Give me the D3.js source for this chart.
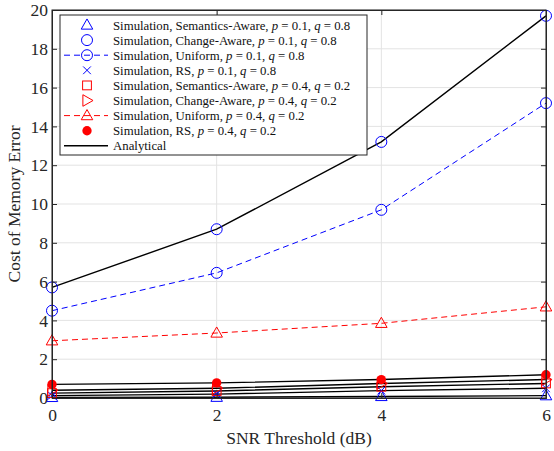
<!DOCTYPE html>
<html>
<head>
<meta charset="utf-8">
<script src="https://cdn.jsdelivr.net/npm/d3@7"></script>
<style>
  body { margin: 0; background: #fff; }
  svg { display: block; font-family: "Liberation Serif", "Times New Roman", serif; }
</style>
</head>
<body>
<div id="chart"></div>
<script>
const snr = [0, 2, 4, 6];
const xTicks = [0, 2, 4, 6];
const yTicks = [0, 2, 4, 6, 8, 10, 12, 14, 16, 18, 20];

// values
const semAware01 = [0.03, 0.04, 0.08, 0.12];
const changeAware01 = [5.7, 8.7, 13.2, 19.7];
const uniform01 = [4.5, 6.45, 9.7, 15.2];
const rs01 = [0.12, 0.2, 0.38, 0.5];
const semAware04 = [0.25, 0.36, 0.58, 0.75];
const changeAware04 = [0.4, 0.5, 0.75, 0.95];
const uniform04 = [2.95, 3.35, 3.85, 4.7];
const rs04 = [0.7, 0.78, 0.95, 1.2];

const series = [
  {name: "Semantics-Aware", p: "0.1", q: "0.8", vals: semAware01, color: "#0000ff", sym: "tri", dash: false},
  {name: "Change-Aware", p: "0.1", q: "0.8", vals: changeAware01, color: "#0000ff", sym: "circ", dash: false},
  {name: "Uniform", p: "0.1", q: "0.8", vals: uniform01, color: "#0000ff", sym: "circ", dash: true},
  {name: "RS", p: "0.1", q: "0.8", vals: rs01, color: "#0000ff", sym: "x", dash: false},
  {name: "Semantics-Aware", p: "0.4", q: "0.2", vals: semAware04, color: "#ff0000", sym: "sq", dash: false},
  {name: "Change-Aware", p: "0.4", q: "0.2", vals: changeAware04, color: "#ff0000", sym: "tri-r", dash: false},
  {name: "Uniform", p: "0.4", q: "0.2", vals: uniform04, color: "#ff0000", sym: "tri", dash: true},
  {name: "RS", p: "0.4", q: "0.2", vals: rs04, color: "#ff0000", sym: "dot", dash: false}
];
// analytical curves run through the non-uniform ones
const analytical = [semAware01, changeAware01, rs01, semAware04, changeAware04, rs04];

const W = 554, H = 451;
const m = {left: 52, right: 8, top: 10, bottom: 53};
const svg = d3.select("#chart").append("svg").attr("width", W).attr("height", H);

const x = d3.scaleLinear().domain([0, 6]).range([m.left, W - m.right]);
const y = d3.scaleLinear().domain([0, 20]).range([H - m.bottom, m.top]);

// grid
svg.append("g").selectAll("line").data(xTicks).join("line")
  .attr("x1", d => x(d)).attr("x2", d => x(d))
  .attr("y1", y(0)).attr("y2", y(20))
  .attr("stroke", "#e3e3e3").attr("stroke-width", 1);
svg.append("g").selectAll("line").data(yTicks).join("line")
  .attr("x1", x(0)).attr("x2", x(6))
  .attr("y1", d => y(d)).attr("y2", d => y(d))
  .attr("stroke", "#e3e3e3").attr("stroke-width", 1);

function marker(g, sym, color, r) {
  r = r || 5.5;
  if (sym === "tri") {
    g.append("path").attr("d", `M0,${-r*1.1}L${r*1.05},${r*0.75}L${-r*1.05},${r*0.75}Z`)
      .attr("fill", "none").attr("stroke", color).attr("stroke-width", 1);
  } else if (sym === "tri-r") {
    g.append("path").attr("d", `M${r*1.1},0L${-r*0.75},${r*1.05}L${-r*0.75},${-r*1.05}Z`)
      .attr("fill", "none").attr("stroke", color).attr("stroke-width", 1);
  } else if (sym === "circ") {
    g.append("circle").attr("r", r).attr("fill", "none").attr("stroke", color).attr("stroke-width", 1);
  } else if (sym === "sq") {
    g.append("rect").attr("x", -r*0.8).attr("y", -r*0.8).attr("width", r*1.6).attr("height", r*1.6)
      .attr("fill", "none").attr("stroke", color).attr("stroke-width", 1);
  } else if (sym === "x") {
    const s = r * 0.7;
    g.append("path").attr("d", `M${-s},${-s}L${s},${s}M${-s},${s}L${s},${-s}`)
      .attr("stroke", color).attr("stroke-width", 1);
  } else if (sym === "dot") {
    g.append("circle").attr("r", r * 0.85).attr("fill", color);
  }
}

const line = d3.line().x((d, i) => x(snr[i])).y(d => y(d));

// analytical (black)
svg.append("g").selectAll("path").data(analytical).join("path")
  .attr("d", line).attr("fill", "none").attr("stroke", "#000").attr("stroke-width", 1.4);

// dashed uniform lines
svg.append("g").selectAll("path").data(series.filter(s => s.dash)).join("path")
  .attr("d", s => line(s.vals)).attr("fill", "none").attr("stroke", s => s.color)
  .attr("stroke-width", 1).attr("stroke-dasharray", "6,4");

// markers
series.forEach(s => {
  s.vals.forEach((v, i) => {
    const g = svg.append("g").attr("transform", `translate(${x(snr[i])},${y(v)})`);
    marker(g, s.sym, s.color);
  });
});

// axes box
const axCol = "#262626";
svg.append("rect").attr("x", x(0)).attr("y", y(20)).attr("width", x(6) - x(0)).attr("height", y(0) - y(20))
  .attr("fill", "none").attr("stroke", axCol).attr("stroke-width", 1);

svg.append("g").attr("transform", `translate(0,${y(0)})`)
  .call(d3.axisBottom(x).tickValues(xTicks).tickSize(-5).tickPadding(11).tickFormat(d3.format("d")));
svg.append("g").attr("transform", `translate(${x(0)},0)`)
  .call(d3.axisLeft(y).tickValues(yTicks).tickSize(-5).tickPadding(4).tickFormat(d3.format("d")));
// top and right ticks
svg.append("g").attr("transform", `translate(0,${y(20)})`)
  .call(d3.axisTop(x).tickValues(xTicks).tickSize(-5).tickFormat(""));
svg.append("g").attr("transform", `translate(${x(6)},0)`)
  .call(d3.axisRight(y).tickValues(yTicks).tickSize(-5).tickFormat(""));
svg.selectAll(".domain").attr("stroke", axCol);
svg.selectAll(".tick line").attr("stroke", axCol);
svg.selectAll(".tick text").attr("fill", axCol).style("font-size", "17.5px")
  .style("font-family", "'Liberation Serif', serif");

svg.append("text").attr("x", x(3)).attr("y", 444).attr("text-anchor", "middle")
  .attr("fill", axCol).style("font-size", "17.5px").text("SNR Threshold (dB)");
svg.append("text").attr("transform", `translate(20,${y(10)}) rotate(-90)`).attr("text-anchor", "middle")
  .attr("fill", axCol).style("font-size", "17.5px").text("Cost of Memory Error");

// legend
const lg = svg.append("g");
lg.append("rect").attr("x", 60).attr("y", 15).attr("width", 307).attr("height", 140)
  .attr("fill", "#fff").attr("stroke", axCol).attr("stroke-width", 1);
const rowH = 15.1, row0 = 25;
const items = series.concat([{analytical: true}]);
items.forEach((s, i) => {
  const cy = row0 + i * rowH;
  if (s.analytical || s.dash) {
    lg.append("line").attr("x1", 64).attr("x2", 108).attr("y1", cy).attr("y2", cy)
      .attr("stroke", s.analytical ? "#000" : s.color).attr("stroke-width", s.analytical ? 1.4 : 1)
      .attr("stroke-dasharray", s.dash ? "6,4" : null);
  }
  if (!s.analytical) {
    marker(lg.append("g").attr("transform", `translate(87,${cy})`), s.sym, s.color);
  }
  const t = lg.append("text").attr("x", 113).attr("y", cy + 4.5)
    .style("font-size", "12.8px").style("font-family", "'Liberation Serif', serif")
    .attr("fill", "#111");
  if (s.analytical) {
    t.text("Analytical");
  } else {
    t.append("tspan").text(`Simulation, ${s.name}, `);
    t.append("tspan").style("font-style", "italic").text("p");
    t.append("tspan").text(` = ${s.p}, `);
    t.append("tspan").style("font-style", "italic").text("q");
    t.append("tspan").text(` = ${s.q}`);
  }
});
</script>
</body>
</html>
